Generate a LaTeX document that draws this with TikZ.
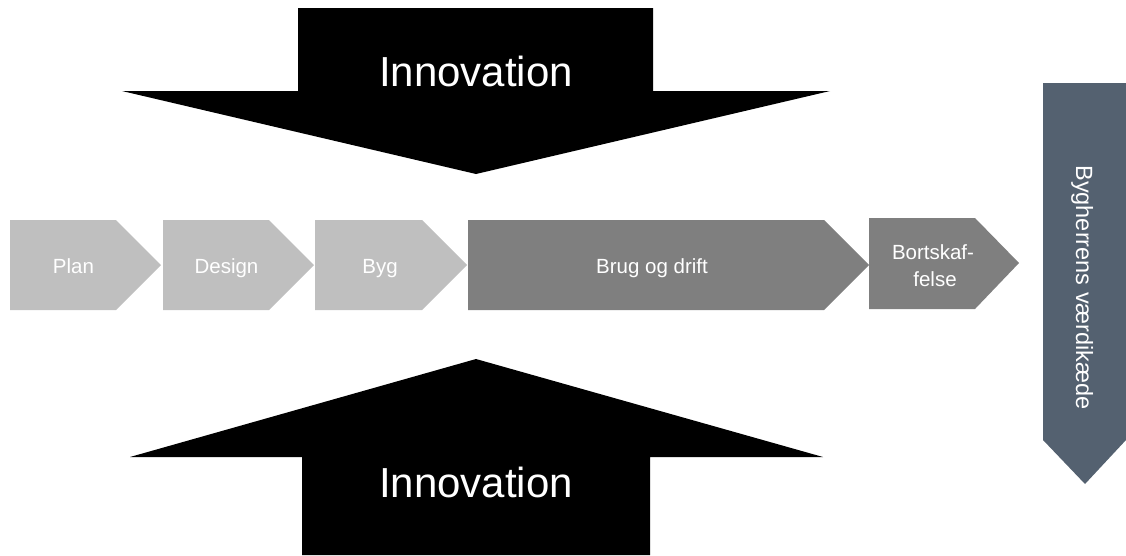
\documentclass[tikz,border=0pt]{standalone}
\usepackage{fontspec}
\setmainfont{Liberation Sans}
\definecolor{lightchev}{HTML}{BFBFBF}
\definecolor{darkchev}{HTML}{7F7F7F}
\definecolor{slate}{HTML}{546170}
\tikzset{
  chevtext/.style={text=white, font=\fontsize{20.5}{24}\selectfont, anchor=base, inner sep=0pt},
  bigtext/.style={text=white, font=\fontsize{42}{48}\selectfont, anchor=base, inner sep=0pt},
  vtext/.style={text=white, font=\fontsize{23.5}{28}\selectfont, anchor=base, inner sep=0pt, rotate=-90}
}
\begin{document}
\begin{tikzpicture}[x=1pt,y=-1pt]
\useasboundingbox (0,0) rectangle (1126,555);
% Innovation arrows
\fill[black] (298,8) -- (653,8) -- (653,91) -- (830,91) -- (476,174) -- (122,91) -- (298,91) -- cycle;
\fill[black] (476,359) -- (823,457) -- (650,457) -- (650,555) -- (302,555) -- (302,457) -- (130,457) -- cycle;
\node[bigtext] (innotop) at (476,86) {Innovation};
\node[bigtext] (innobot) at (476,497) {Innovation};
% chevrons
\fill[lightchev] (10,220) -- (116,220) -- (161,265) -- (116,310) -- (10,310) -- cycle;
\fill[lightchev] (163,220) -- (269,220) -- (314,265) -- (269,310) -- (163,310) -- cycle;
\fill[lightchev] (315,220) -- (422,220) -- (467,265) -- (422,310) -- (315,310) -- cycle;
\fill[darkchev] (468,220) -- (824,220) -- (869,265) -- (824,310) -- (468,310) -- cycle;
\fill[darkchev] (869,218) -- (975,218) -- (1019,263) -- (975,309) -- (869,309) -- cycle;
\node[chevtext] (plan) at (73.5,273) {Plan};
\node[chevtext] (design) at (226.5,273) {Design};
\node[chevtext] (byg) at (380,273) {Byg};
\node[chevtext] (brug) at (652,273) {Brug og drift};
\node[chevtext] (bort1) at (933,259) {Bortskaf-};
\node[chevtext] (bort2) at (935,286) {felse};
% value chain arrow
\fill[slate] (1043,83) -- (1126,83) -- (1126,440) -- (1085,484) -- (1043,440) -- cycle;
\node[vtext] (chain) at (1076,287.5) {Bygherrens værdikæde};
\end{tikzpicture}
\end{document}
